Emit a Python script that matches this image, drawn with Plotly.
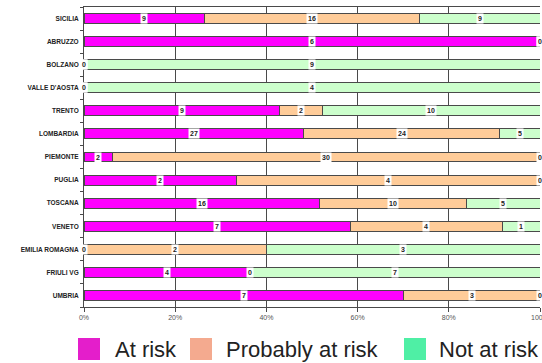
import plotly.graph_objects as go

# Regions and number of sites per risk class
regions = ["SICILIA", "ABRUZZO", "BOLZANO", "VALLE D'AOSTA", "TRENTO", "LOMBARDIA",
           "PIEMONTE", "PUGLIA", "TOSCANA", "VENETO", "EMILIA ROMAGNA", "FRIULI VG", "UMBRIA"]
at_risk = [9, 6, 0, 0, 9, 27, 2, 2, 16, 7, 0, 4, 7]
probably_at_risk = [16, 0, 0, 0, 2, 24, 30, 4, 10, 4, 2, 0, 3]
not_at_risk = [9, 0, 9, 4, 10, 5, 0, 0, 5, 1, 3, 7, 0]

series_names = ["At risk", "Probably at risk", "Not at risk"]
bar_colors = ["#FF00FF", "#FFCC99", "#CCFFCC"]
legend_colors = ["#E41ECB", "#F4AA8F", "#4FEFA5"]
x_ticks = [0, 20, 40, 60, 80, 100]

series = [at_risk, probably_at_risk, not_at_risk]

W, H = 542, 363
M_L, M_R, M_T, M_B = 84, 2, 7, 56
PW, PH = W - M_L - M_R, H - M_T - M_B

fig = go.Figure()
for name, vals, col in zip(series_names, series, bar_colors):
    fig.add_trace(go.Bar(
        y=regions, x=vals, name=name, orientation="h",
        marker=dict(color=col, line=dict(color="#4a4a4a", width=1)),
        showlegend=False, hoverinfo="x+y+name",
    ))

# Count labels centred on each segment, with a white box cutting the bar
annotations = []
for i, reg in enumerate(regions):
    total = sum(s[i] for s in series)
    start = 0.0
    for s in series:
        pct = 100.0 * s[i] / total
        annotations.append(dict(
            x=start + pct / 2, y=reg, xref="x", yref="y",
            text=f"<b>{s[i]}</b>", showarrow=False,
            font=dict(size=7, color="#222222", family="Liberation Sans, Arial"),
            bgcolor="white", borderpad=1,
        ))
        start += pct


def px_x(px):
    return (px - M_L) / PW


def px_y(py):
    return (M_T + PH - py) / PH


# Legend drawn below the plot area
shapes = []
legend_items = [(78, 113), (190, 224), (404, 437)]
for (sq_x, tx_x), name, col in zip(legend_items, series_names, legend_colors):
    shapes.append(dict(type="rect", xref="paper", yref="paper",
                       x0=px_x(sq_x), x1=px_x(sq_x + 22),
                       y0=px_y(360), y1=px_y(338),
                       fillcolor=col, line=dict(width=0)))
    annotations.append(dict(x=px_x(tx_x), y=px_y(349), xref="paper", yref="paper",
                            xanchor="left", yanchor="middle", text=name, showarrow=False,
                            font=dict(size=22, color="#222222",
                                      family="Liberation Sans, Arial")))

fig.update_layout(
    width=W, height=H,
    margin=dict(l=M_L, r=M_R, t=M_T, b=M_B),
    barmode="stack", barnorm="percent", bargap=0.57,
    paper_bgcolor="white", plot_bgcolor="white",
    font=dict(family="Liberation Sans, Arial", color="#222222"),
    annotations=annotations, shapes=shapes,
    xaxis=dict(
        range=[0, 100], tickvals=x_ticks, ticktext=[f"{t}%" for t in x_ticks],
        tickfont=dict(size=7, color="#555555"), ticklabeloverflow="allow",
        showgrid=True, gridcolor="#4a4a4a", gridwidth=1,
        showline=True, linecolor="#4a4a4a", linewidth=1, mirror=True,
        ticks="outside", ticklen=4, tickcolor="#4a4a4a",
        zeroline=False, automargin=False,
    ),
    yaxis=dict(
        categoryorder="array", categoryarray=regions, autorange="reversed",
        tickvals=regions, ticktext=[f"<b>{r}</b>" for r in regions],
        tickfont=dict(size=6.5, color="#222222"), ticklabelstandoff=3,
        showline=True, linecolor="#4a4a4a", linewidth=1,
        ticks="outside", ticklen=3, tickcolor="#4a4a4a", tickson="boundaries",
        showgrid=False, automargin=False,
    ),
)

fig.write_html("out.html")
